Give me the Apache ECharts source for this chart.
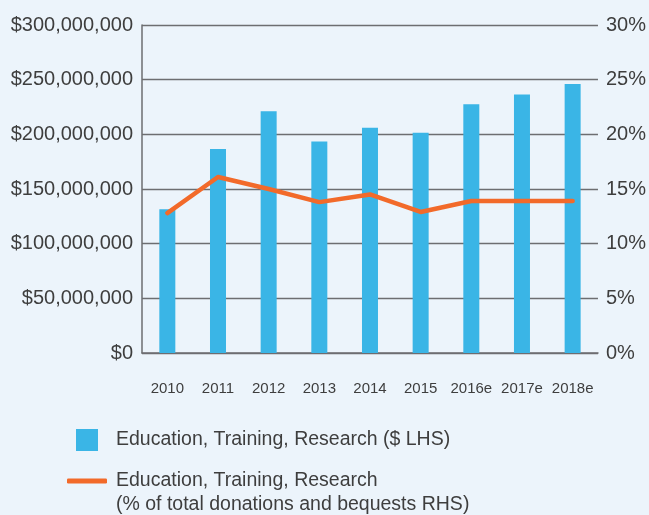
<!DOCTYPE html>
<html>
<head>
<meta charset="utf-8">
<script src="https://cdn.jsdelivr.net/npm/echarts@6/dist/echarts.min.js"></script>
<style>
    html, body { margin: 0; padding: 0; background: #ecf4fb; }
    #chart { width: 649px; height: 515px; }
</style>
</head>
<body>
<div id="chart"></div>
<script>
const years = ['2010', '2011', '2012', '2013', '2014', '2015', '2016e', '2017e', '2018e']
const dollars = [131500000, 186500000, 221000000, 193500000, 206000000, 201500000, 227500000, 236500000, 246000000]
const percent = [12.8, 16.1, 15.0, 13.8, 14.5, 12.9, 13.9, 13.9, 13.9]
const barName = 'Education, Training, Research ($ LHS)'
const lineName = 'Education, Training, Research (% of total donations and bequests RHS)'

const textColor = '#3e3e3e'
const gridColor = '#6d6e71'
const font = 'Liberation Sans, Helvetica, Arial, sans-serif'

const money = v => '$' + String(v).replace(/\B(?=(\d{3})+(?!\d))/g, ',')

const chart = echarts.init(document.getElementById('chart'))
const option = {
    backgroundColor: '#ecf4fb',
    animation: false,
    textStyle: { fontFamily: font },
    grid: { left: 142, right: 51, top: 25, bottom: 162 },
    legend: [{
        data: [barName],
        left: 71,
        top: 424,
        icon: 'rect',
        itemWidth: 22,
        itemHeight: 22,
        selectedMode: false,
        textStyle: { fontSize: 19.5, color: textColor, fontFamily: font, padding: [0, 0, 0, 13] }
    }, {
        data: [lineName],
        left: 62,
        top: 466,
        icon: 'roundRect',
        itemWidth: 40,
        itemHeight: 5,
        selectedMode: false,
        formatter: () => 'Education, Training, Research',
        textStyle: { fontSize: 19.5, color: textColor, fontFamily: font, padding: [0, 0, 0, 4] }
    }],
    graphic: [{
        type: 'text',
        left: 116,
        top: 495,
        style: {
            text: '(% of total donations and bequests RHS)',
            fontSize: 19.5,
            fontFamily: font,
            fill: textColor
        }
    }],
    xAxis: {
        type: 'category',
        data: years,
        axisLine: { lineStyle: { color: gridColor, width: 1.5 } },
        axisTick: { show: false },
        axisLabel: { color: textColor, fontSize: 15, margin: 28, interval: 0 }
    },
    yAxis: [{
        type: 'value',
        min: 0,
        max: 300000000,
        interval: 50000000,
        axisLine: { show: true, lineStyle: { color: gridColor, width: 1.5 } },
        axisTick: { show: false },
        splitLine: { lineStyle: { color: gridColor, width: 1.3 } },
        axisLabel: { color: textColor, fontSize: 20, margin: 9, formatter: money }
    }, {
        type: 'value',
        min: 0,
        max: 30,
        interval: 5,
        axisLine: { show: false },
        axisTick: { show: false },
        splitLine: { show: false },
        axisLabel: { color: textColor, fontSize: 20, margin: 8, formatter: '{value}%' }
    }],
    series: [{
        name: barName,
        type: 'bar',
        data: dollars,
        barWidth: 16,
        itemStyle: { color: '#3ab5e6' }
    }, {
        name: lineName,
        type: 'line',
        yAxisIndex: 1,
        data: percent,
        symbol: 'none',
        lineStyle: { color: '#f26a2a', width: 4.5, join: 'round', cap: 'round' },
        itemStyle: { color: '#f26a2a' }
    }]
}
chart.setOption(option)
</script>
</body>
</html>
